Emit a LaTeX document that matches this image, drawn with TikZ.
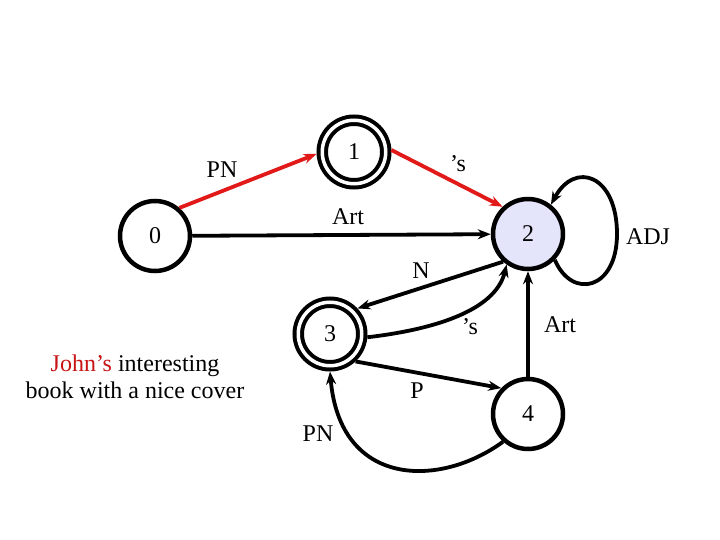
\documentclass[tikz,border=0pt]{standalone}
\usepackage{fontspec}
\setmainfont{Liberation Serif}
\usetikzlibrary{arrows.meta}
\definecolor{edgered}{RGB}{225,25,25}
\definecolor{johnred}{RGB}{200,20,20}
\definecolor{statefill}{RGB}{228,228,250}
\begin{document}
\begin{tikzpicture}[x=1pt,y=-1pt,
  txt/.style={font=\fontsize{24}{27}\selectfont},
  state/.style={circle, draw, line width=4.5pt, minimum size=70pt, inner sep=0pt, txt},
  accept/.style={circle, draw, double, double distance=3.5pt, line width=4pt, minimum size=63.5pt, inner sep=0pt, outer sep=5.75pt, txt},
  edge/.style={line width=3.8pt, -{Stealth[length=13pt,width=10pt]}},
  lbl/.style={inner sep=0pt, txt}]
\useasboundingbox (0,0) rectangle (720,540);
\fill[white] (0,0) rectangle (720,540);

\node[state] (n0) at (155,236) {0};
\node[accept] (n1) at (354,152) {1};
\node[state, fill=statefill] (n2) at (528,234) {2};
\node[accept] (n3) at (330,334) {3};
\node[state] (n4) at (528,414) {4};
\coordinate (loopR) at (617,234);

\draw[edge, edgered] (n0.49) -- (n1.183);
\draw[edge, edgered] (n1.3) -- (n2.133);
\draw[edge] (n0) -- (n2);
\draw[edge] (n2.228) -- (n3.43);
\draw[edge] (n3.-5) .. controls (430,330) and (495,312) .. (n2.235);
\draw[edge] (n3.-47) -- (n4.136);
\draw[edge] (n4) -- (n2);
\draw[edge] (n4.228) .. controls (440,488) and (340,488) .. (n3.south);
\draw[edge] (n2.-44) .. controls (572,300) and (617,290) .. (loopR) .. controls (617,175) and (575,160) .. (n2.52);

\node[lbl] (lPN1) at (222,170) {PN};
\node[lbl] (lS1) at (458,164) {’s};
\node[lbl] (lArt1) at (348,217) {Art};
\node[lbl] (lADJ) at (648,237) {ADJ};
\node[lbl] (lN) at (421,271) {N};
\node[lbl] (lS2) at (470,327) {’s};
\node[lbl] (lArt2) at (560,325) {Art};
\node[lbl] (lP) at (417,391) {P};
\node[lbl] (lPN2) at (318,434) {PN};
\node[lbl, align=center] (ex) at (135,377) {\textcolor{johnred}{John’s} interesting\\book with a nice cover};
\end{tikzpicture}
\end{document}
